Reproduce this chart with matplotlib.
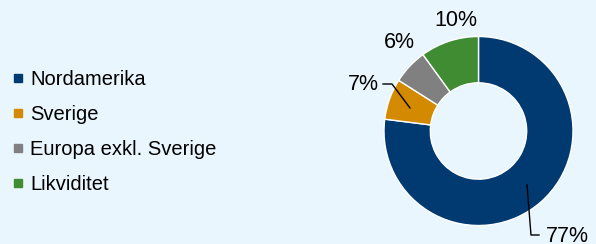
import numpy as np
import matplotlib.pyplot as plt
from matplotlib.lines import Line2D

plt.rcParams['font.family'] = ['Liberation Sans', 'DejaVu Sans']

regions = ['Nordamerika', 'Sverige', 'Europa exkl. Sverige', 'Likviditet']
shares = [77, 7, 6, 10]
colors = ['#003A70', '#D48A00', '#808080', '#3F8C33']
bg = '#EAF6FD'

fig = plt.figure(figsize=(5.96, 2.44), dpi=100, facecolor=bg)
ax = fig.add_axes([0, 0, 1, 1])
ax.set_facecolor(bg)
ax.axis('off')

cx, cy, R = 478.5, 113, 94.5
wedges, _ = ax.pie(shares, colors=colors, startangle=90, counterclock=False,
                   center=(cx, cy), radius=R,
                   wedgeprops=dict(width=R * 0.49, edgecolor='white', linewidth=1))
ax.set_xlim(0, 596)
ax.set_ylim(0, 244)
ax.set_aspect('equal')

fs = 15.5
# 10% and 6% without leader lines
ax.text(456, 224, '10%', fontsize=fs, ha='center', va='center')
ax.text(399, 201, '6%', fontsize=fs, ha='center', va='center')
# 7% with elbow leader
ax.plot([383, 392, 410], [160, 160, 136], color='black', lw=1)
ax.text(379, 160, '7%', fontsize=fs, ha='right', va='center')
# 77% with elbow leader
ax.plot([527, 531, 539], [59, 9, 9], color='black', lw=1)
ax.text(546, 8, '77%', fontsize=fs, ha='left', va='center')

handles = [Line2D([], [], marker='s', linestyle='none', markersize=5.8,
                  markerfacecolor=c, markeredgecolor=c) for c in colors]
fig.legend(handles, regions, loc='upper left', bbox_to_anchor=(0.003, 0.745),
           frameon=False, fontsize=14.5, handletextpad=0.2, handlelength=0.8,
           labelspacing=0.79, borderaxespad=0, borderpad=0.4)

fig.savefig('out.png', dpi=100, facecolor=bg)
